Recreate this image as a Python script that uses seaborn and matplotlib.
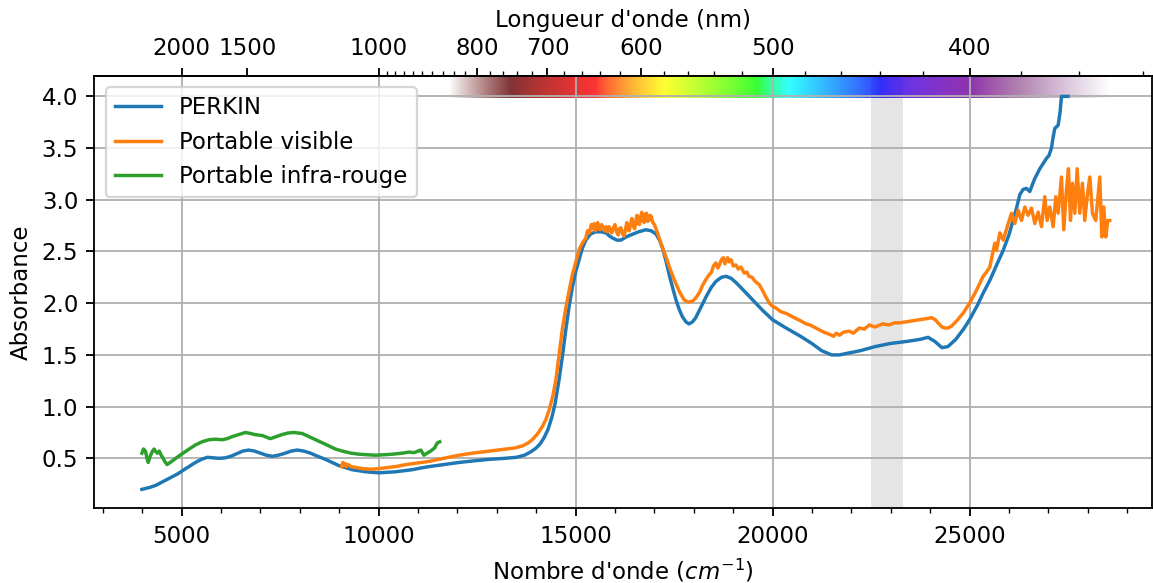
import numpy as np
from matplotlib import pyplot as plt
from matplotlib.ticker import MultipleLocator
import seaborn as sns
import pandas as pd

# PERKIN spectrum (wavenumber cm-1, absorbance)
perkin_wn = [3990, 4100, 4200, 4350, 4500, 4700, 4900, 5100, 5350, 5500, 5650, 5800, 5950,
             6110, 6250, 6400, 6550, 6700, 6850, 7000, 7150, 7300, 7450, 7630, 7780, 7930,
             8100, 8270, 8450, 8650, 8820, 8990, 9160, 9330, 9500, 9670, 9850, 10000, 10200,
             10430, 10650, 10850, 11050, 11280, 11650, 12040, 12400, 12800, 13200, 13500,
             13700, 13850, 14000, 14100, 14200, 14300, 14400, 14480, 14580, 14670, 14750,
             14840, 14920, 15000, 15090, 15170, 15260, 15380, 15510, 15650, 15770, 15860,
             15940, 16050, 16150, 16280, 16400, 16600, 16780, 16920, 17040, 17130, 17210,
             17300, 17380, 17470, 17550, 17630, 17710, 17800, 17880, 17970, 18050, 18180,
             18310, 18440, 18560, 18700, 18820, 18950, 19070, 19250, 19500, 19750, 20000,
             20300, 20710, 21000, 21250, 21500, 21700, 21950, 22220, 22600, 22980, 23400,
             23740, 23950, 24120, 24300, 24450, 24650, 24850, 25000, 25200, 25350, 25515,
             25700, 25854, 26000, 26107, 26200, 26277, 26360, 26446, 26530, 26650, 26784,
             26870, 26953, 27020, 27080, 27120, 27165, 27250, 27300, 27334, 27500]
perkin_abs = [0.20, 0.21, 0.22, 0.24, 0.27, 0.31, 0.35, 0.40, 0.46, 0.49, 0.51, 0.505, 0.50,
              0.505, 0.52, 0.545, 0.57, 0.58, 0.57, 0.55, 0.53, 0.52, 0.53, 0.55, 0.57, 0.58,
              0.57, 0.55, 0.52, 0.49, 0.46, 0.43, 0.41, 0.39, 0.38, 0.37, 0.365, 0.36, 0.365,
              0.37, 0.38, 0.39, 0.405, 0.42, 0.44, 0.46, 0.475, 0.49, 0.50, 0.51,
              0.53, 0.56, 0.60, 0.64, 0.70, 0.78, 0.90, 1.03, 1.26, 1.50, 1.74,
              1.98, 2.16, 2.30, 2.42, 2.53, 2.61, 2.67, 2.69, 2.69, 2.68, 2.65,
              2.63, 2.61, 2.61, 2.64, 2.66, 2.69, 2.71, 2.70, 2.67, 2.61, 2.53,
              2.40, 2.27, 2.14, 2.03, 1.94, 1.87, 1.82, 1.80, 1.82, 1.86, 1.96,
              2.06, 2.15, 2.21, 2.25, 2.26, 2.24, 2.20, 2.13, 2.03, 1.93, 1.84,
              1.77, 1.68, 1.61, 1.54, 1.50, 1.50, 1.52, 1.54, 1.58, 1.61, 1.63,
              1.65, 1.67, 1.63, 1.57, 1.58, 1.65, 1.75, 1.84, 1.98, 2.10, 2.22,
              2.38, 2.51, 2.66, 2.80, 2.93, 3.05, 3.10, 3.11, 3.08, 3.20, 3.30,
              3.35, 3.40, 3.43, 3.50, 3.60, 3.69, 3.72, 3.85, 4.00, 4.00]

# portable visible spectrometer
vis_wn = [9060, 9090, 9120, 9150, 9180, 9220, 9300, 9450, 9580, 9800, 10000, 10200, 10430,
          10700, 11000, 11280, 11650, 12040, 12380, 12800, 13220, 13450, 13650, 13800,
          13900, 14040, 14160, 14250, 14330, 14420, 14500, 14580, 14660, 14750, 14840,
          14920, 15000, 15090, 15170, 15260, 15300, 15350, 15400, 15430, 15470, 15500,
          15530, 15560, 15590, 15620, 15660, 15700, 15740, 15770, 15810, 15850, 15880,
          15920, 15960, 16000, 16040, 16080, 16110, 16150, 16190, 16230, 16270, 16300,
          16330, 16360, 16400, 16430, 16470, 16500, 16530, 16560, 16590, 16620, 16650,
          16680, 16710, 16740, 16770, 16800, 16830, 16860, 16890, 16920, 16960, 17000,
          17040, 17080, 17130, 17210, 17300, 17380, 17460, 17545, 17650, 17760, 17860,
          17970, 18050, 18140, 18220, 18310, 18380, 18450, 18500, 18560, 18610, 18650,
          18700, 18750, 18790, 18820, 18860, 18900, 18950, 19000, 19070, 19130, 19200,
          19280, 19350, 19400, 19480, 19560, 19660, 19750, 19830, 19920, 20000, 20100,
          20200, 20350, 20450, 20550, 20710, 20850, 20950, 21100, 21200, 21300, 21440,
          21550, 21620, 21700, 21800, 21950, 22050, 22200, 22330, 22460, 22600, 22800,
          22950, 23100, 23220, 23400, 23550, 23730, 23900, 24040, 24130, 24200, 24300,
          24370, 24450, 24550, 24700, 24850, 25000, 25170, 25346, 25430, 25515, 25642,
          25684, 25769, 25854, 26065, 26150, 26234, 26319, 26404, 26488, 26573, 26657,
          26742, 26827, 26911, 26970, 27038, 27123, 27190, 27250, 27334, 27393, 27461,
          27512, 27563, 27613, 27673, 27732, 27799, 27867, 27926, 27986, 28053, 28121,
          28205, 28307, 28358, 28409, 28459, 28510, 28561]
vis_abs = [0.42, 0.46, 0.43, 0.45, 0.42, 0.44, 0.42, 0.41, 0.40, 0.395, 0.40, 0.41, 0.42,
           0.44, 0.455, 0.47, 0.50, 0.53, 0.55, 0.57, 0.59, 0.60, 0.62, 0.65,
           0.68, 0.74, 0.81, 0.88, 0.97, 1.10, 1.26, 1.50, 1.74, 1.95, 2.13,
           2.28, 2.39, 2.52, 2.58, 2.63, 2.70, 2.68, 2.76, 2.72, 2.77, 2.70,
           2.74, 2.78, 2.72, 2.71, 2.76, 2.73, 2.70, 2.74, 2.69, 2.74, 2.70,
           2.68, 2.73, 2.76, 2.69, 2.66, 2.72, 2.73, 2.67, 2.65, 2.72, 2.78,
           2.71, 2.70, 2.77, 2.82, 2.74, 2.72, 2.80, 2.85, 2.77, 2.76, 2.83,
           2.88, 2.80, 2.78, 2.86, 2.87, 2.79, 2.80, 2.85, 2.84, 2.78, 2.76,
           2.72, 2.68, 2.62, 2.53, 2.44, 2.35, 2.27, 2.19, 2.10, 2.03, 2.01,
           2.02, 2.05, 2.10, 2.17, 2.23, 2.27, 2.30, 2.36, 2.39, 2.34, 2.37,
           2.42, 2.44, 2.38, 2.41, 2.44, 2.40, 2.42, 2.36, 2.37, 2.33, 2.35,
           2.29, 2.30, 2.26, 2.25, 2.21, 2.18, 2.12, 2.06, 2.00, 1.97, 1.95,
           1.92, 1.90, 1.88, 1.86, 1.83, 1.80, 1.79, 1.76, 1.74, 1.72, 1.70,
           1.68, 1.71, 1.69, 1.72, 1.73, 1.71, 1.76, 1.75, 1.79, 1.77, 1.80,
           1.79, 1.81, 1.81, 1.82, 1.83, 1.84, 1.85, 1.86, 1.84, 1.81, 1.77,
           1.76, 1.76, 1.78, 1.84, 1.91, 2.00, 2.12, 2.26, 2.30, 2.35, 2.58,
           2.51, 2.68, 2.61, 2.87, 2.77, 2.90, 2.80, 2.93, 2.85, 2.92, 2.77,
           2.88, 2.74, 3.03, 2.80, 2.93, 2.74, 3.03, 2.87, 3.22, 2.71, 3.10,
           3.30, 2.80, 3.16, 2.87, 3.30, 2.87, 3.16, 2.80, 3.03, 3.22, 2.87,
           2.80, 3.22, 2.64, 2.93, 2.64, 2.80, 2.80]

# portable infrared spectrometer
ir_wn = [3990, 4030, 4080, 4120, 4150, 4200, 4260, 4300, 4330, 4380, 4430, 4480, 4530,
         4570, 4630, 4780, 4920, 5150, 5350, 5520, 5690, 5850, 6030, 6150, 6280, 6450,
         6620, 6750, 6850, 7050, 7250, 7400, 7550, 7700, 7850, 8060, 8230, 8400, 8570,
         8740, 8900, 9080, 9300, 9500, 9700, 9920, 10150, 10350, 10600, 10770, 10900,
         11070, 11150, 11230, 11320, 11420, 11490, 11550]
ir_abs = [0.55, 0.59, 0.57, 0.50, 0.46, 0.52, 0.57, 0.59, 0.57, 0.55, 0.57, 0.53, 0.50,
          0.47, 0.44, 0.48, 0.52, 0.58, 0.63, 0.66, 0.68, 0.685, 0.68, 0.69, 0.71, 0.73,
          0.75, 0.74, 0.73, 0.72, 0.69, 0.71, 0.73, 0.745, 0.75, 0.74, 0.71, 0.68, 0.65,
          0.62, 0.59, 0.57, 0.55, 0.54, 0.535, 0.53, 0.535, 0.54, 0.55, 0.56, 0.555,
          0.58, 0.53, 0.55, 0.57, 0.60, 0.65, 0.66]

labels = ['PERKIN', 'Portable visible', 'Portable infra-rouge']
top_ticks = [2000, 1500, 1000, 800, 700, 600, 500, 400]
band = (22500, 23300)


def wavelength_to_rgba(wl, gamma=0.8):
    # Dan Bruton approximation, with a fade outside the visible range
    w = min(max(wl, 380.), 750.)
    if w < 440:
        att = 0.3 + 0.7 * (w - 380) / 60
        r, g, b = (-(w - 440) / 60 * att) ** gamma, 0.0, att ** gamma
    elif w < 490:
        r, g, b = 0.0, ((w - 440) / 50) ** gamma, 1.0
    elif w < 510:
        r, g, b = 0.0, 1.0, (-(w - 510) / 20) ** gamma
    elif w < 580:
        r, g, b = ((w - 510) / 70) ** gamma, 1.0, 0.0
    elif w < 645:
        r, g, b = 1.0, (-(w - 645) / 65) ** gamma, 0.0
    else:
        att = 0.3 + 0.7 * (750 - w) / 105
        r, g, b = att ** gamma, 0.0, 0.0
    a = 0.8
    if wl > 750:
        a *= max(0., (850 - wl) / 100)
    if wl < 400:
        a *= max(0., (wl - 350) / 50)
    return (r, g, b, a)


def to_nm(x):
    x = np.asarray(x, dtype=float)
    with np.errstate(divide='ignore'):
        return 1e7 / x


DPI = 165
fig = plt.figure(figsize=(1153 / DPI, 583 / DPI), dpi=DPI)
ax = fig.add_axes([0.0818, 0.1278, 0.9169, 0.7424])

df_p = pd.DataFrame({'wn': perkin_wn, 'A': perkin_abs})
df_v = pd.DataFrame({'wn': vis_wn, 'A': vis_abs})
df_i = pd.DataFrame({'wn': ir_wn, 'A': ir_abs})
pal = sns.color_palette('tab10')
sns.lineplot(data=df_p, x='wn', y='A', ax=ax, color=pal[0], label=labels[0], lw=1.5)
sns.lineplot(data=df_v, x='wn', y='A', ax=ax, color=pal[1], label=labels[1], lw=1.5)
sns.lineplot(data=df_i, x='wn', y='A', ax=ax, color=pal[2], label=labels[2], lw=1.5)

# visible spectrum strip
wn_strip = np.linspace(11600, 28700, 900)
strip = np.array([[wavelength_to_rgba(w) for w in to_nm(wn_strip)]])
ax.imshow(strip, extent=[wn_strip[0], wn_strip[-1], 3.985, 4.25], aspect='auto',
          interpolation='bilinear', zorder=1.2)

ax.axvspan(band[0], band[1], color='gray', alpha=0.2, lw=0, zorder=1)

ax.set_xlim(2782, 29620)
ax.set_ylim(0.015, 4.2)
ax.xaxis.set_major_locator(MultipleLocator(5000))
ax.xaxis.set_minor_locator(MultipleLocator(1000))
ax.set_yticks(np.arange(0.5, 4.01, 0.5))
ax.grid(True)
ax.set_xlabel("Nombre d'onde ($cm^{-1}$)")
ax.set_ylabel('Absorbance')
ax.legend(loc='upper left')

secax = ax.secondary_xaxis('top', functions=(to_nm, to_nm))
secax.set_xticks(top_ticks)
secax.set_xticks(np.arange(340, 1000, 20), minor=True)
secax.set_xticklabels([str(t) for t in top_ticks])
secax.set_xlabel("Longueur d'onde (nm)")

fig.savefig('out.png', dpi=DPI)
